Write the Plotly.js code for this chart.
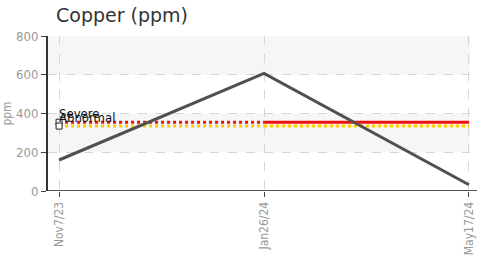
<!DOCTYPE html>
<html><head><meta charset="utf-8">
<script src="https://cdn.plot.ly/plotly-3.0.1.min.js"></script>
<style>html,body{margin:0;padding:0;background:#fff}#chart{width:477px;height:260px}</style>
</head><body><div id="chart"></div>
<script>
const dates = ["Nov7/23", "Jan26/24", "May17/24"];
const copper = [160, 607, 32];
const severeLimit = 355;
const abnormalLimit = 335;
const limitNames = ["Severe", "Abnormal"];
const yTicks = [0, 200, 400, 600, 800];

const narrow = "'Liberation Sans Narrow', 'DejaVu Sans Condensed', 'Roboto', sans-serif";
const traces = [];
const limits = [[severeLimit, "#ee1111"], [abnormalLimit, "#ffcc00"]];
limits.forEach(([v, c]) => {
  traces.push({x: dates.slice(0, 2), y: [v, v], type: "scatter", mode: "lines",
    line: {color: c, width: 3, dash: "dot"}, hoverinfo: "skip", showlegend: false});
  traces.push({x: dates.slice(1), y: [v, v], type: "scatter", mode: "lines",
    line: {color: c, width: 3, dash: c === "#ffcc00" ? "dot" : "solid"}, hoverinfo: "skip", showlegend: false});
});
traces.push({x: dates, y: copper, type: "scatter", mode: "lines",
  line: {color: "#505050", width: 3}, showlegend: false});
traces.push({x: [dates[0], dates[0]], y: [severeLimit, abnormalLimit], type: "scatter", mode: "markers",
  marker: {symbol: "square", size: 6, color: "#fff", line: {color: "#222", width: 1}},
  cliponaxis: false, showlegend: false});

const annotations = [
  {x: dates[0], y: severeLimit, text: limitNames[0], yshift: 9},
  {x: dates[0], y: abnormalLimit, text: limitNames[1], yshift: 9}
].map(a => Object.assign(a, {xref: "x", yref: "y", showarrow: false, xanchor: "left", yanchor: "middle",
  xshift: -2, font: {family: narrow, size: 13, color: "#111"}}));

const shapes = [];
for (let i = 1; i < yTicks.length; i += 2) {
  shapes.push({type: "rect", xref: "paper", yref: "y", x0: 0, x1: 1, y0: yTicks[i], y1: yTicks[i + 1],
    fillcolor: "#f6f6f6", line: {width: 0}, layer: "below"});
}
shapes.push({type: "line", xref: "paper", yref: "y", x0: 0, x1: 1.02, y0: 0, y1: 0,
  line: {color: "#555", width: 2}, layer: "above"});

const layout = {
  width: 477, height: 260,
  margin: {l: 48, r: 7, t: 36, b: 69},
  paper_bgcolor: "#fff", plot_bgcolor: "#fff",
  title: {text: "Copper (ppm)", xref: "container", yref: "container", x: 56/477, xanchor: "left",
    y: 1 - 15/260, yanchor: "middle", font: {family: "DejaVu Sans", size: 19, color: "#333"}},
  xaxis: {type: "category", range: [-0.054, 2.005], tickangle: -90,
    tickfont: {family: narrow, size: 12, color: "#999"},
    showgrid: true, gridcolor: "#d6d6d6", griddash: "dash", gridwidth: 1,
    ticks: "outside", ticklen: 5, tickcolor: "#444", showline: false, zeroline: false, fixedrange: true},
  yaxis: {range: [0, 800], tickvals: yTicks, ticks: "outside", ticklen: 5, tickcolor: "#444",
    tickfont: {family: narrow, size: 13, color: "#999"},
    showline: true, linecolor: "#333", linewidth: 2,
    showgrid: true, gridcolor: "#d6d6d6", griddash: "dash", gridwidth: 1, zeroline: false,
    title: {text: "ppm", font: {family: narrow, size: 12, color: "#999"}, standoff: 6}},
  shapes: shapes,
  annotations: annotations
};
Plotly.newPlot("chart", traces, layout, {displayModeBar: false, staticPlot: true});
</script></body></html>
